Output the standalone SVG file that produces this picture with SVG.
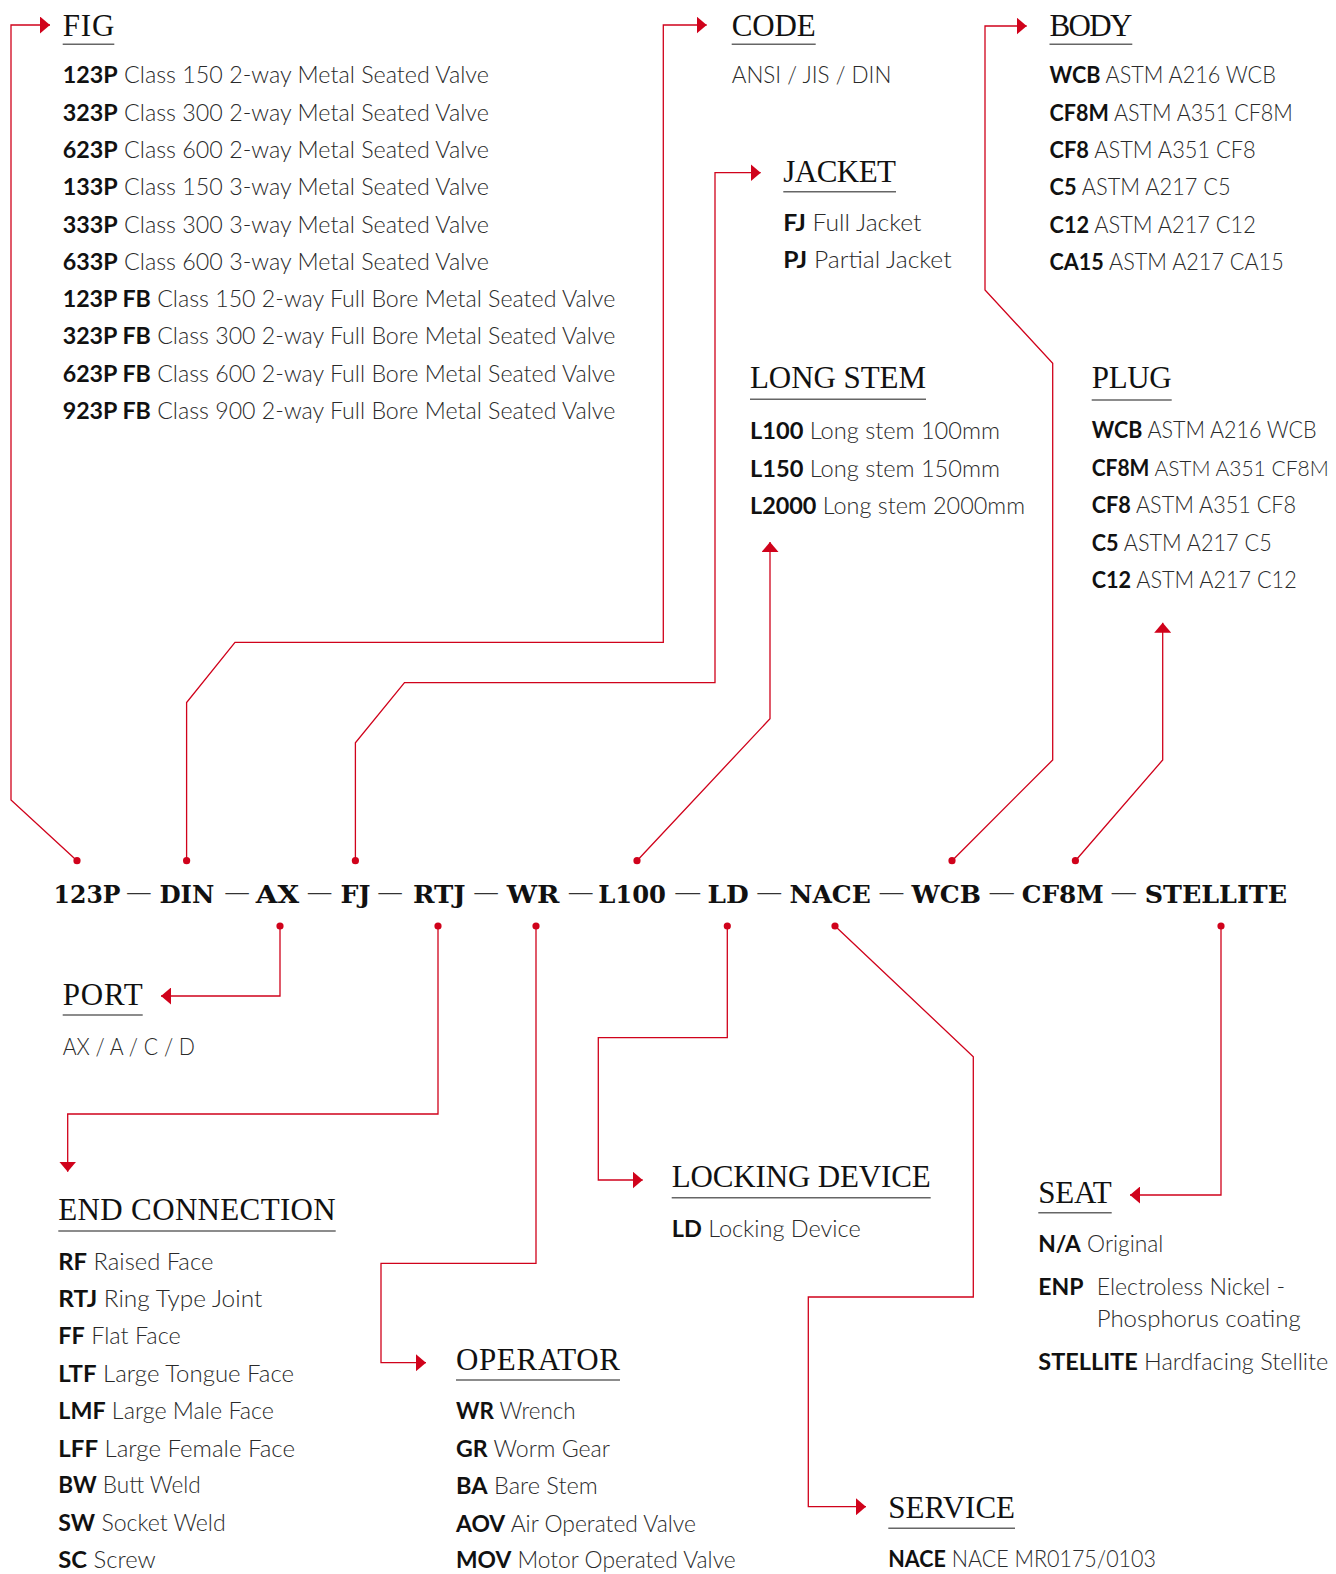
<svg xmlns="http://www.w3.org/2000/svg" width="1336" height="1574" viewBox="0 0 1336 1574">
<style>
.h{font-family:"Liberation Serif","DejaVu Serif",serif;font-size:31px;fill:#111}
.ul{stroke:#666;stroke-width:1.6}
.t{font-family:Lato,"Liberation Sans",sans-serif;font-size:23px;fill:#2a2a2a;font-weight:300}
.b{font-weight:700;fill:#111}
.code{font-family:"DejaVu Serif","Liberation Serif",serif;font-weight:700;font-size:25px;fill:#111}
.dash{font-family:"Liberation Serif","DejaVu Serif",serif;font-size:28px;fill:#333}
.c{fill:none;stroke:#d0021b;stroke-width:1.3}
.dot{fill:#d0021b}
</style>
<defs>
<marker id="ah" viewBox="0 0 10 17" refX="10" refY="8.5" markerWidth="10" markerHeight="17" markerUnits="userSpaceOnUse" orient="auto"><path d="M0,0 L10,8.5 L0,17 z" fill="#d0021b"/></marker>
</defs>
<rect width="1336" height="1574" fill="#fff"/>

<g id="connectors">
<path class="c" marker-end="url(#ah)" d="M77,860.7 L11,800 L11,25 L50,25"/>
<path class="c" marker-end="url(#ah)" d="M186.6,860.7 L186.6,702.6 L235,642.4 L663.3,642.4 L663.3,25 L706.7,25"/>
<path class="c" marker-end="url(#ah)" d="M355.4,860.7 L355.4,742.8 L404.5,682.6 L715,682.6 L715,172.7 L760.7,172.7"/>
<path class="c" marker-end="url(#ah)" d="M637,860.7 L770,718.7 L770,542"/>
<path class="c" marker-end="url(#ah)" d="M952,860.7 L1052.7,760 L1052.7,363.3 L985,290 L985,26 L1026.7,26"/>
<path class="c" marker-end="url(#ah)" d="M1075.4,860.7 L1162.7,760 L1162.7,622.7"/>
<path class="c" marker-end="url(#ah)" d="M280,926 L280,996 L161,996"/>
<path class="c" marker-end="url(#ah)" d="M438,926 L438,1114 L67.7,1114 L67.7,1171.7"/>
<path class="c" marker-end="url(#ah)" d="M536,926 L536,1263.3 L381,1263.3 L381,1362.7 L426,1362.7"/>
<path class="c" marker-end="url(#ah)" d="M727.3,926 L727.3,1037.7 L598.3,1037.7 L598.3,1180 L642.7,1180"/>
<path class="c" marker-end="url(#ah)" d="M835,926 L973.3,1056.7 L973.3,1297 L808.3,1297 L808.3,1506.7 L866,1506.7"/>
<path class="c" marker-end="url(#ah)" d="M1221,926 L1221,1195 L1130,1195"/>
<circle class="dot" cx="77" cy="860.7" r="3.6"/>
<circle class="dot" cx="186.6" cy="860.7" r="3.6"/>
<circle class="dot" cx="355.4" cy="860.7" r="3.6"/>
<circle class="dot" cx="637" cy="860.7" r="3.6"/>
<circle class="dot" cx="952" cy="860.7" r="3.6"/>
<circle class="dot" cx="1075.4" cy="860.7" r="3.6"/>
<circle class="dot" cx="280" cy="926" r="3.6"/>
<circle class="dot" cx="438" cy="926" r="3.6"/>
<circle class="dot" cx="536" cy="926" r="3.6"/>
<circle class="dot" cx="727.3" cy="926" r="3.6"/>
<circle class="dot" cx="835" cy="926" r="3.6"/>
<circle class="dot" cx="1221" cy="926" r="3.6"/>
</g>

<g id="code-line">
<text class="code" x="53.6" y="903" textLength="66.9" lengthAdjust="spacingAndGlyphs">123P</text>
<text class="dash" x="127.2" y="900" textLength="23.2" lengthAdjust="spacingAndGlyphs">—</text>
<text class="code" x="159.4" y="903" textLength="54.9" lengthAdjust="spacingAndGlyphs">DIN</text>
<text class="dash" x="225.4" y="900" textLength="23.2" lengthAdjust="spacingAndGlyphs">—</text>
<text class="code" x="255.8" y="903" textLength="43.3" lengthAdjust="spacingAndGlyphs">AX</text>
<text class="dash" x="308" y="900" textLength="23.2" lengthAdjust="spacingAndGlyphs">—</text>
<text class="code" x="340.6" y="903" textLength="29.9" lengthAdjust="spacingAndGlyphs">FJ</text>
<text class="dash" x="378.6" y="900" textLength="23.2" lengthAdjust="spacingAndGlyphs">—</text>
<text class="code" x="413" y="903" textLength="52.6" lengthAdjust="spacingAndGlyphs">RTJ</text>
<text class="dash" x="474.6" y="900" textLength="23.2" lengthAdjust="spacingAndGlyphs">—</text>
<text class="code" x="506.7" y="903" textLength="52.7" lengthAdjust="spacingAndGlyphs">WR</text>
<text class="dash" x="569" y="900" textLength="23.4" lengthAdjust="spacingAndGlyphs">—</text>
<text class="code" x="598.2" y="903" textLength="67.8" lengthAdjust="spacingAndGlyphs">L100</text>
<text class="dash" x="675.5" y="900" textLength="24.5" lengthAdjust="spacingAndGlyphs">—</text>
<text class="code" x="707.5" y="903" textLength="41.2" lengthAdjust="spacingAndGlyphs">LD</text>
<text class="dash" x="757.6" y="900" textLength="23.5" lengthAdjust="spacingAndGlyphs">—</text>
<text class="code" x="789.6" y="903" textLength="81.2" lengthAdjust="spacingAndGlyphs">NACE</text>
<text class="dash" x="879.7" y="900" textLength="23.5" lengthAdjust="spacingAndGlyphs">—</text>
<text class="code" x="911.6" y="903" textLength="69.3" lengthAdjust="spacingAndGlyphs">WCB</text>
<text class="dash" x="989.8" y="900" textLength="23.9" lengthAdjust="spacingAndGlyphs">—</text>
<text class="code" x="1021.7" y="903" textLength="82.1" lengthAdjust="spacingAndGlyphs">CF8M</text>
<text class="dash" x="1111.8" y="900" textLength="24" lengthAdjust="spacingAndGlyphs">—</text>
<text class="code" x="1144.7" y="903" textLength="142.4" lengthAdjust="spacingAndGlyphs">STELLITE</text>
</g>

<g id="fig">
<text class="h" x="62.7" y="36" textLength="51.6">FIG</text>
<line class="ul" x1="62.7" y1="44.3" x2="114.3" y2="44.3"/>
<text class="t" x="62.7" y="83.3" textLength="426.2" lengthAdjust="spacingAndGlyphs"><tspan class="b">123P</tspan> Class 150 2-way Metal Seated Valve</text>
<text class="t" x="62.7" y="120.6" textLength="426.2" lengthAdjust="spacingAndGlyphs"><tspan class="b">323P</tspan> Class 300 2-way Metal Seated Valve</text>
<text class="t" x="62.7" y="157.9" textLength="426.2" lengthAdjust="spacingAndGlyphs"><tspan class="b">623P</tspan> Class 600 2-way Metal Seated Valve</text>
<text class="t" x="62.7" y="195.2" textLength="426.2" lengthAdjust="spacingAndGlyphs"><tspan class="b">133P</tspan> Class 150 3-way Metal Seated Valve</text>
<text class="t" x="62.7" y="232.5" textLength="426.2" lengthAdjust="spacingAndGlyphs"><tspan class="b">333P</tspan> Class 300 3-way Metal Seated Valve</text>
<text class="t" x="62.7" y="269.8" textLength="426.2" lengthAdjust="spacingAndGlyphs"><tspan class="b">633P</tspan> Class 600 3-way Metal Seated Valve</text>
<text class="t" x="62.7" y="307.1" textLength="552.6" lengthAdjust="spacingAndGlyphs"><tspan class="b">123P FB</tspan> Class 150 2-way Full Bore Metal Seated Valve</text>
<text class="t" x="62.7" y="344.4" textLength="552.6" lengthAdjust="spacingAndGlyphs"><tspan class="b">323P FB</tspan> Class 300 2-way Full Bore Metal Seated Valve</text>
<text class="t" x="62.7" y="381.7" textLength="552.6" lengthAdjust="spacingAndGlyphs"><tspan class="b">623P FB</tspan> Class 600 2-way Full Bore Metal Seated Valve</text>
<text class="t" x="62.7" y="419" textLength="552.6" lengthAdjust="spacingAndGlyphs"><tspan class="b">923P FB</tspan> Class 900 2-way Full Bore Metal Seated Valve</text>
</g>

<g id="code">
<text class="h" x="731.7" y="36" textLength="84">CODE</text>
<line class="ul" x1="731.7" y1="44.3" x2="815.7" y2="44.3"/>
<text class="t" x="731.7" y="83.3" textLength="159.7" lengthAdjust="spacingAndGlyphs">ANSI / JIS / DIN</text>
</g>

<g id="body">
<text class="h" x="1049.5" y="36" textLength="82.8">BODY</text>
<line class="ul" x1="1049.5" y1="44.3" x2="1132.3" y2="44.3"/>
<text class="t" x="1049.5" y="83.3" textLength="226.3" lengthAdjust="spacingAndGlyphs"><tspan class="b">WCB</tspan> ASTM A216 WCB</text>
<text class="t" x="1049.5" y="120.6" textLength="243.4" lengthAdjust="spacingAndGlyphs"><tspan class="b">CF8M</tspan> ASTM A351 CF8M</text>
<text class="t" x="1049.5" y="158" textLength="206.3" lengthAdjust="spacingAndGlyphs"><tspan class="b">CF8</tspan> ASTM A351 CF8</text>
<text class="t" x="1049.5" y="195.3" textLength="181.2" lengthAdjust="spacingAndGlyphs"><tspan class="b">C5</tspan> ASTM A217 C5</text>
<text class="t" x="1049.5" y="232.6" textLength="206.3" lengthAdjust="spacingAndGlyphs"><tspan class="b">C12</tspan> ASTM A217 C12</text>
<text class="t" x="1049.5" y="270" textLength="234.2" lengthAdjust="spacingAndGlyphs"><tspan class="b">CA15</tspan> ASTM A217 CA15</text>
</g>

<g id="jacket">
<text class="h" x="783.3" y="182" textLength="112.7">JACKET</text>
<line class="ul" x1="783.3" y1="191.7" x2="896" y2="191.7"/>
<text class="t" x="783.3" y="230.7" textLength="138.2" lengthAdjust="spacingAndGlyphs"><tspan class="b">FJ</tspan> Full Jacket</text>
<text class="t" x="783.3" y="268.3" textLength="168.3" lengthAdjust="spacingAndGlyphs"><tspan class="b">PJ</tspan> Partial Jacket</text>
</g>

<g id="long-stem">
<text class="h" x="750" y="388" textLength="176">LONG STEM</text>
<line class="ul" x1="750" y1="399.3" x2="926" y2="399.3"/>
<text class="t" x="750" y="439" textLength="250" lengthAdjust="spacingAndGlyphs"><tspan class="b">L100</tspan> Long stem 100mm</text>
<text class="t" x="750" y="476.5" textLength="250" lengthAdjust="spacingAndGlyphs"><tspan class="b">L150</tspan> Long stem 150mm</text>
<text class="t" x="750" y="513.5" textLength="275" lengthAdjust="spacingAndGlyphs"><tspan class="b">L2000</tspan> Long stem 2000mm</text>
</g>

<g id="plug">
<text class="h" x="1091.7" y="388.3" textLength="80">PLUG</text>
<line class="ul" x1="1091.7" y1="400" x2="1171.7" y2="400"/>
<text class="t" x="1091.7" y="438.3" textLength="225" lengthAdjust="spacingAndGlyphs"><tspan class="b">WCB</tspan> ASTM A216 WCB</text>
<text class="t" x="1091.7" y="476" textLength="237" lengthAdjust="spacingAndGlyphs" style="font-size:22px"><tspan class="b">CF8M</tspan> ASTM A351 CF8M</text>
<text class="t" x="1091.7" y="513.3" textLength="204.3" lengthAdjust="spacingAndGlyphs"><tspan class="b">CF8</tspan> ASTM A351 CF8</text>
<text class="t" x="1091.7" y="550.6" textLength="180" lengthAdjust="spacingAndGlyphs"><tspan class="b">C5</tspan> ASTM A217 C5</text>
<text class="t" x="1091.7" y="588.3" textLength="205" lengthAdjust="spacingAndGlyphs"><tspan class="b">C12</tspan> ASTM A217 C12</text>
</g>

<g id="port">
<text class="h" x="62.7" y="1005" textLength="80">PORT</text>
<line class="ul" x1="62.7" y1="1015" x2="142.7" y2="1015"/>
<text class="t" x="62.7" y="1055" textLength="132.3" lengthAdjust="spacingAndGlyphs">AX / A / C / D</text>
</g>

<g id="end-connection">
<text class="h" x="58.3" y="1220" textLength="277.4">END CONNECTION</text>
<line class="ul" x1="58.3" y1="1231" x2="335.7" y2="1231"/>
<text class="t" x="58.3" y="1270" textLength="155" lengthAdjust="spacingAndGlyphs"><tspan class="b">RF</tspan> Raised Face</text>
<text class="t" x="58.3" y="1306.7" textLength="204" lengthAdjust="spacingAndGlyphs"><tspan class="b">RTJ</tspan> Ring Type Joint</text>
<text class="t" x="58.3" y="1344.3" textLength="122.4" lengthAdjust="spacingAndGlyphs"><tspan class="b">FF</tspan> Flat Face</text>
<text class="t" x="58.3" y="1381.7" textLength="235.7" lengthAdjust="spacingAndGlyphs"><tspan class="b">LTF</tspan> Large Tongue Face</text>
<text class="t" x="58.3" y="1419.3" textLength="215.7" lengthAdjust="spacingAndGlyphs"><tspan class="b">LMF</tspan> Large Male Face</text>
<text class="t" x="58.3" y="1456.7" textLength="236.7" lengthAdjust="spacingAndGlyphs"><tspan class="b">LFF</tspan> Large Female Face</text>
<text class="t" x="58.3" y="1493.3" textLength="142.4" lengthAdjust="spacingAndGlyphs"><tspan class="b">BW</tspan> Butt Weld</text>
<text class="t" x="58.3" y="1531" textLength="167.4" lengthAdjust="spacingAndGlyphs"><tspan class="b">SW</tspan> Socket Weld</text>
<text class="t" x="58.3" y="1568.3" textLength="97.4" lengthAdjust="spacingAndGlyphs"><tspan class="b">SC</tspan> Screw</text>
</g>

<g id="operator">
<text class="h" x="456" y="1370" textLength="164">OPERATOR</text>
<line class="ul" x1="456" y1="1380" x2="620" y2="1380"/>
<text class="t" x="456" y="1419.3" textLength="119.7" lengthAdjust="spacingAndGlyphs"><tspan class="b">WR</tspan> Wrench</text>
<text class="t" x="456" y="1456.7" textLength="154" lengthAdjust="spacingAndGlyphs"><tspan class="b">GR</tspan> Worm Gear</text>
<text class="t" x="456" y="1494" textLength="141.7" lengthAdjust="spacingAndGlyphs"><tspan class="b">BA</tspan> Bare Stem</text>
<text class="t" x="456" y="1531.7" textLength="240" lengthAdjust="spacingAndGlyphs"><tspan class="b">AOV</tspan> Air Operated Valve</text>
<text class="t" x="456" y="1568.3" textLength="279.7" lengthAdjust="spacingAndGlyphs"><tspan class="b">MOV</tspan> Motor Operated Valve</text>
</g>

<g id="locking-device">
<text class="h" x="671.7" y="1186.7" textLength="259">LOCKING DEVICE</text>
<line class="ul" x1="671.7" y1="1197.7" x2="930.7" y2="1197.7"/>
<text class="t" x="671.7" y="1236.7" textLength="189" lengthAdjust="spacingAndGlyphs"><tspan class="b">LD</tspan> Locking Device</text>
</g>

<g id="seat">
<text class="h" x="1038.3" y="1203.3" textLength="73.4">SEAT</text>
<line class="ul" x1="1038.3" y1="1212.7" x2="1111.7" y2="1212.7"/>
<text class="t" x="1038.3" y="1251.7" textLength="125" lengthAdjust="spacingAndGlyphs"><tspan class="b">N/A</tspan> Original</text>
<text class="t b" x="1038.3" y="1295">ENP</text>
<text class="t" x="1096.7" y="1295" textLength="188.3" lengthAdjust="spacingAndGlyphs">Electroless Nickel -</text>
<text class="t" x="1096.7" y="1326.7" textLength="204" lengthAdjust="spacingAndGlyphs">Phosphorus coating</text>
<text class="t" x="1038.3" y="1370" textLength="290" lengthAdjust="spacingAndGlyphs"><tspan class="b">STELLITE</tspan> Hardfacing Stellite</text>
</g>

<g id="service">
<text class="h" x="888.3" y="1518.3" textLength="126.7">SERVICE</text>
<line class="ul" x1="888.3" y1="1528.3" x2="1015" y2="1528.3"/>
<text class="t" x="888.3" y="1566.7" textLength="267.7" lengthAdjust="spacingAndGlyphs"><tspan class="b">NACE</tspan> NACE MR0175/0103</text>
</g>
</svg>
